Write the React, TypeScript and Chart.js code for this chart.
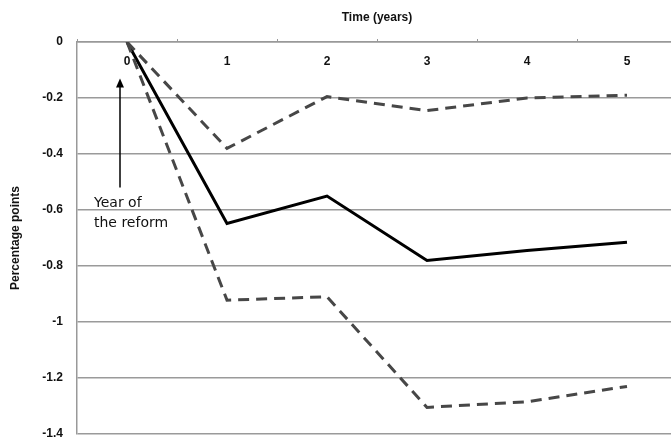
import React, { useEffect, useRef } from "react";
import { Chart, registerables } from "chart.js";

Chart.register(...registerables);

const years = ["0", "1", "2", "3", "4", "5"];
const estimate = [0, -0.648, -0.55, -0.78, -0.745, -0.715];
const upperBound = [0, -0.38, -0.195, -0.245, -0.2, -0.19];
const lowerBound = [0, -0.922, -0.91, -1.305, -1.285, -1.23];
const yTicks = [0, -0.2, -0.4, -0.6, -0.8, -1, -1.2, -1.4];
const xTitle = "Time (years)";
const yTitle = "Percentage points";
const noteLines = ["Year of", "the reform"];

const labelFont = "bold 12px 'Liberation Sans'";

const annotationPlugin = {
  id: "reformNote",
  afterDatasetsDraw(chart: any) {
    const { ctx, scales, chartArea } = chart;
    ctx.save();
    // x category labels drawn just under the top axis line
    ctx.font = labelFont;
    ctx.fillStyle = "#111";
    ctx.textAlign = "center";
    ctx.textBaseline = "middle";
    years.forEach((lab, i) => {
      ctx.fillText(lab, scales.x.getPixelForValue(i), chartArea.top + 20);
    });
    const x = scales.x.getPixelForValue(0) - 7;
    const yTop = scales.y.getPixelForValue(-0.13);
    const yBot = scales.y.getPixelForValue(-0.52);
    ctx.strokeStyle = "#000";
    ctx.fillStyle = "#000";
    ctx.lineWidth = 1.5;
    ctx.beginPath();
    ctx.moveTo(x, yBot);
    ctx.lineTo(x, yTop + 6);
    ctx.stroke();
    ctx.beginPath();
    ctx.moveTo(x, yTop);
    ctx.lineTo(x - 4, yTop + 9);
    ctx.lineTo(x + 4, yTop + 9);
    ctx.closePath();
    ctx.fill();
    ctx.font = "14px 'DejaVu Sans'";
    ctx.textAlign = "left";
    ctx.textBaseline = "middle";
    ctx.fillStyle = "#111";
    const ly = scales.y.getPixelForValue(-0.575);
    ctx.fillText(noteLines[0], x - 26, ly);
    ctx.fillText(noteLines[1], x - 26, ly + 20);
    ctx.restore();
  },
};

export default function App() {
  const ref = useRef<HTMLCanvasElement | null>(null);
  useEffect(() => {
    document.body.style.margin = "0";
    document.body.style.overflow = "hidden";
    const canvas = ref.current!;
    const dashStyle = {
      borderColor: "#474747",
      borderWidth: 3,
      borderDash: [11, 7],
      pointRadius: 0,
      fill: false,
      tension: 0,
    };
    const chart = new Chart(canvas, {
      type: "line",
      data: {
        labels: years,
        datasets: [
          { label: "Upper", data: upperBound, ...dashStyle },
          { label: "Lower", data: lowerBound, ...dashStyle },
          {
            label: "Estimate",
            data: estimate,
            borderColor: "#000",
            borderWidth: 3,
            pointRadius: 0,
            fill: false,
            tension: 0,
          },
        ],
      },
      options: {
        responsive: false,
        animation: false,
        devicePixelRatio: 1,
        layout: { padding: { top: 0, right: 14, bottom: 9, left: 0 } },
        plugins: { legend: { display: false }, tooltip: { enabled: false } },
        scales: {
          x: {
            type: "category",
            position: "top",
            offset: true,
            grid: {
              offset: true,
              drawOnChartArea: false,
              drawTicks: true,
              tickLength: 3,
              color: "#999",
            },
            border: { color: "#999", width: 1.5 },
            ticks: { display: false },
            title: {
              display: true,
              text: xTitle,
              color: "#111",
              font: { family: "'Liberation Sans'", weight: "bold", size: 12 },
              padding: { top: 10, bottom: 0 },
            },
            afterFit(scale: any) {
              scale.height = 42;
              scale.paddingLeft = 0;
              scale.paddingRight = 0;
            },
          },
          y: {
            type: "linear",
            min: -1.4,
            max: 0,
            afterBuildTicks(scale: any) {
              scale.ticks = yTicks.map((v) => ({ value: v }));
            },
            ticks: {
              color: "#111",
              font: { family: "'Liberation Sans'", weight: "bold", size: 12 },
              padding: 14,
              callback: (v: any) => String(Math.round(Number(v) * 10) / 10),
            },
            grid: { color: "#9a9a9a", lineWidth: 1.5, drawTicks: false },
            border: { color: "#999", width: 1.5 },
            title: {
              display: true,
              text: yTitle,
              color: "#111",
              font: { family: "'Liberation Sans'", weight: "bold", size: 12 },
              padding: { top: 8, bottom: 0 },
            },
            afterFit(scale: any) {
              scale.width = 77;
              scale.paddingTop = 0;
              scale.paddingBottom = 0;
            },
          },
        },
      },
      plugins: [annotationPlugin],
    } as any);
    return () => chart.destroy();
  }, []);
  return (
    <div style={{ width: 671, height: 443, overflow: "hidden", position: "relative", background: "#fff" }}>
      <canvas ref={ref} width={691} height={443} style={{ position: "absolute", left: 0, top: 0 }} />
    </div>
  );
}
